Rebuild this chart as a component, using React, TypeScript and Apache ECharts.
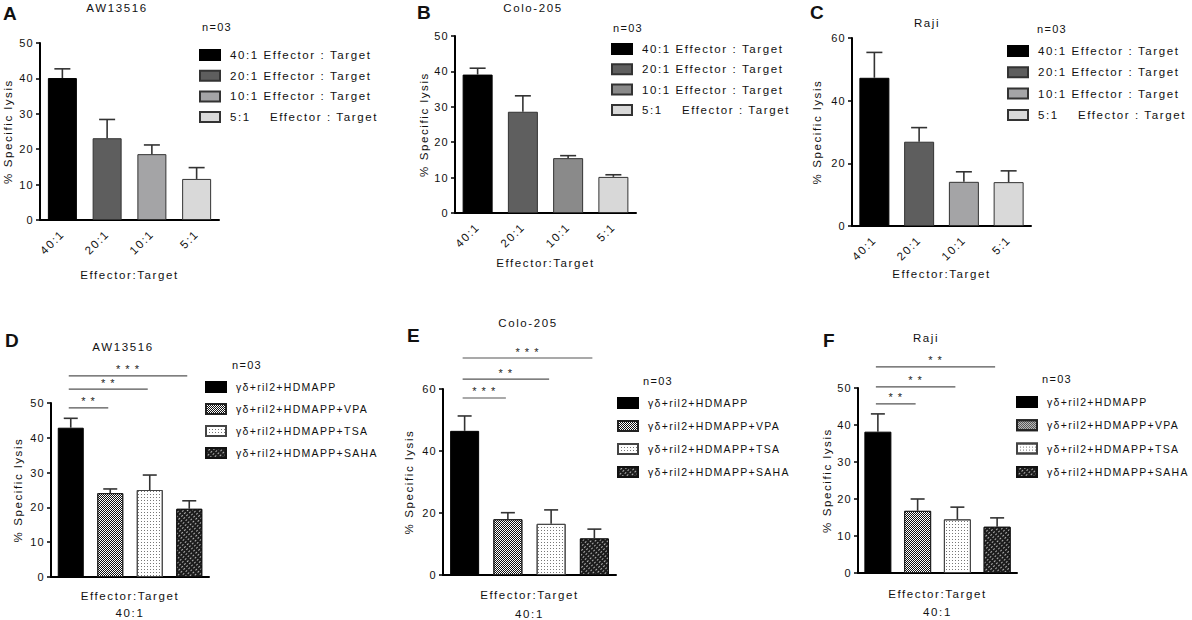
import React, { useEffect, useRef } from "react";
import * as echarts from "echarts";

const FONT = "'Liberation Sans', Arial, Helvetica, sans-serif";

// ---------- data ----------
const topCategories = ["40:1", "20:1", "10:1", "5:1"];
const topSeriesNames = [
  "40:1 Effector : Target",
  "20:1 Effector : Target",
  "10:1 Effector : Target",
  "5:1    Effector : Target",
];
const bottomGroups = ["HDMAPP", "VPA", "TSA", "SAHA"];
const bottomSeriesNames = [
  "γδ+ril2+HDMAPP",
  "γδ+ril2+HDMAPP+VPA",
  "γδ+ril2+HDMAPP+TSA",
  "γδ+ril2+HDMAPP+SAHA",
];

const aMeans = [40.1, 23.1, 18.6, 11.6];
const aUpper = [42.7, 28.4, 21.2, 14.8];
const bMeans = [39.1, 28.6, 15.5, 10.2];
const bUpper = [40.9, 33.1, 16.2, 10.8];
const cMeans = [47.3, 26.9, 14.1, 14.0];
const cUpper = [55.4, 31.4, 17.3, 17.6];
const dMeans = [42.9, 24.1, 25.0, 19.6];
const dUpper = [45.6, 25.3, 29.3, 21.9];
const eMeans = [46.5, 18.0, 16.5, 11.8];
const eUpper = [51.3, 20.1, 21.0, 14.8];
const fMeans = [38.2, 16.8, 14.5, 12.5];
const fUpper = [43.0, 20.0, 17.8, 14.9];

const dSigLevels = [48.6, 54.0, 57.8];
const dSigLabels = ["**", "**", "***"];
const eSigLevels = [57.1, 63.2, 70.0];
const eSigLabels = ["***", "**", "***"];
const fSigLevels = [45.7, 50.3, 55.7];
const fSigLabels = ["**", "**", "**"];

// ---------- styles ----------
const topColorsAC = ["#000000", "#5e5e5e", "#a4a4a6", "#d9d9d9"];
const topColorsB = ["#000000", "#5f5f5f", "#8a8a8a", "#d8d8d8"];

const topStyles = (colors: string[]) =>
  colors.map((c, i) => ({ color: c, borderColor: i === 0 ? "#000" : "#333", borderWidth: 1 }));

const bottomStyles = [
  { color: "#000000", borderColor: "#000", borderWidth: 1 },
  {
    color: "#ffffff",
    borderColor: "#222",
    borderWidth: 1,
    decal: {
      symbol: "rect",
      symbolSize: 1,
      color: "#111111",
      dashArrayX: [[1, 1], [0, 1, 1, 0]],
      dashArrayY: [1, 0],
    },
  },
  {
    color: "#ffffff",
    borderColor: "#444",
    borderWidth: 1,
    decal: {
      symbol: "rect",
      symbolSize: 1,
      color: "#777777",
      dashArrayX: [1, 2],
      dashArrayY: [1, 2],
    },
  },
  {
    color: "#1c1c1c",
    borderColor: "#111",
    borderWidth: 1,
    decal: {
      symbol: "rect",
      symbolSize: 1,
      color: "#b0b0b0",
      dashArrayX: [2, 2],
      dashArrayY: [1, 2],
      rotation: -Math.PI / 4,
    },
  },
];

function txt(text: string, x: number, y: number, font: string, align = "left") {
  return {
    type: "text",
    x,
    y,
    silent: true,
    style: {
      text,
      font,
      fill: "#111",
      align,
      textAlign: align,
      verticalAlign: "middle",
      textVerticalAlign: "middle",
    },
  };
}

function buildOption(cfg: any) {
  const {
    categories, names, means, upper, itemStyles, yMax, yInterval, grid,
    letter, letterPos, title, titlePos, nPos, legend, showXLabels, xName,
    xNameGap, xNameLineHeight, yNameGap, barWidth, capHalf, sigLevels, sigLabels,
  } = cfg;

  const series: any[] = names.map((name: string, i: number) => ({
    type: "bar",
    name,
    barWidth,
    barGap: "-100%",
    data: categories.map((_: string, j: number) => (j === i ? means[i] : "-")),
    itemStyle: itemStyles[i],
    emphasis: { disabled: true },
    z: 2,
  }));

  series.push({
    type: "custom",
    name: "error",
    silent: true,
    z: 3,
    encode: { x: 0, y: [1, 2] },
    data: means.map((m: number, i: number) => [i, m, upper[i]]),
    renderItem: (params: any, api: any) => {
      const base = api.coord([api.value(0), api.value(1)]);
      const top = api.coord([api.value(0), api.value(2)]);
      const st = { stroke: "#333", lineWidth: 1.6 };
      return {
        type: "group",
        children: [
          { type: "line", shape: { x1: base[0], y1: base[1], x2: top[0], y2: top[1] }, style: st },
          { type: "line", shape: { x1: top[0] - capHalf, y1: top[1], x2: top[0] + capHalf, y2: top[1] }, style: st },
        ],
      };
    },
  });

  if (sigLevels) {
    series.push({
      type: "custom",
      name: "sig",
      silent: true,
      z: 3,
      clip: false,
      encode: { x: [0, 1], y: 2 },
      data: sigLevels.map((lv: number, k: number) => [0, k + 1, lv]),
      renderItem: (params: any, api: any) => {
        const p0 = api.coord([api.value(0), api.value(2)]);
        const p1 = api.coord([api.value(1), api.value(2)]);
        return {
          type: "group",
          children: [
            {
              type: "line",
              shape: { x1: p0[0] - 2, y1: p0[1], x2: p1[0] - 2, y2: p1[1] },
              style: { stroke: "#555", lineWidth: 1.2 },
            },
            {
              type: "text",
              x: (p0[0] + p1[0]) / 2,
              y: p0[1] - 1,
              style: {
                text: sigLabels[params.dataIndex],
                font: `11px ${FONT}`,
                fill: "#222",
                align: "center",
                verticalAlign: "bottom",
              },
            },
          ],
        };
      },
    });
  }

  const axisName = { fontFamily: FONT, fontSize: 11.5, color: "#111" };

  return {
    animation: false,
    backgroundColor: "transparent",
    textStyle: { fontFamily: FONT },
    grid: { ...grid, containLabel: false, outerBoundsMode: "none" },
    legend: {
      data: names,
      orient: "vertical",
      left: legend.left,
      top: legend.top,
      padding: 0,
      itemGap: legend.gap,
      itemWidth: legend.w,
      itemHeight: 10,
      icon: "rect",
      selectedMode: false,
      textStyle: {
        fontFamily: FONT,
        fontSize: legend.fontSize,
        color: "#111",
        lineHeight: 12,
        padding: [0, 0, 0, 5],
      },
    },
    xAxis: {
      type: "category",
      data: categories,
      axisLine: { lineStyle: { color: "#000", width: 2 } },
      axisTick: { show: false },
      axisLabel: {
        show: showXLabels,
        rotate: 45,
        margin: 12,
        fontFamily: FONT,
        fontSize: 11.5,
        color: "#111",
      },
      name: xName,
      nameLocation: "middle",
      nameGap: xNameGap,
      nameMoveOverlap: false,
      nameTextStyle: { ...axisName, lineHeight: xNameLineHeight },
    },
    yAxis: {
      type: "value",
      min: 0,
      max: yMax,
      interval: yInterval,
      axisLine: { show: true, lineStyle: { color: "#000", width: 2 } },
      axisTick: { show: true, length: 4, lineStyle: { color: "#000", width: 1.5 } },
      splitLine: { show: false },
      axisLabel: { fontFamily: FONT, fontSize: 11, color: "#111", margin: 6 },
      name: "% Specific lysis",
      nameLocation: "middle",
      nameRotate: 90,
      nameGap: yNameGap,
      nameMoveOverlap: false,
      nameTextStyle: axisName,
    },
    graphic: [
      txt(letter, letterPos[0], letterPos[1], `bold 19px ${FONT}`),
      txt(title, titlePos[0], titlePos[1], `11.5px ${FONT}`, "center"),
      txt("n=03", nPos[0], nPos[1], `11px ${FONT}`),
    ],
    series,
  };
}

const panels: any[] = [
  {
    box: { left: 0, top: 0, width: 400, height: 290 },
    categories: topCategories, names: topSeriesNames, means: aMeans, upper: aUpper,
    itemStyles: topStyles(topColorsAC), yMax: 50, yInterval: 10,
    grid: { left: 40, top: 43, width: 179, height: 177 },
    letter: "A", letterPos: [3, 13], title: "AW13516", titlePos: [117, 8], nPos: [202, 27],
    legend: { left: 199, top: 49, gap: 8.7, w: 20, fontSize: 11.5 },
    showXLabels: true, xName: "Effector:Target", xNameGap: 48, xNameLineHeight: 14,
    yNameGap: 26, barWidth: 29, capHalf: 8,
  },
  {
    box: { left: 400, top: 0, width: 390, height: 290 },
    categories: topCategories, names: topSeriesNames, means: bMeans, upper: bUpper,
    itemStyles: topStyles(topColorsB), yMax: 50, yInterval: 10,
    grid: { left: 55, top: 36, width: 181, height: 177 },
    letter: "B", letterPos: [17, 12], title: "Colo-205", titlePos: [133, 8], nPos: [213, 28],
    legend: { left: 211, top: 43, gap: 8.3, w: 20, fontSize: 11.5 },
    showXLabels: true, xName: "Effector:Target", xNameGap: 43, xNameLineHeight: 14,
    yNameGap: 25, barWidth: 30, capHalf: 8,
  },
  {
    box: { left: 790, top: 0, width: 402, height: 290 },
    categories: topCategories, names: topSeriesNames, means: cMeans, upper: cUpper,
    itemStyles: topStyles(topColorsAC), yMax: 60, yInterval: 20,
    grid: { left: 62, top: 38, width: 179, height: 188 },
    letter: "C", letterPos: [20, 12], title: "Raji", titlePos: [137, 23], nPos: [247, 29],
    legend: { left: 217, top: 45, gap: 9.3, w: 20, fontSize: 11.5 },
    showXLabels: true, xName: "Effector:Target", xNameGap: 41, xNameLineHeight: 14,
    yNameGap: 29, barWidth: 30, capHalf: 8,
  },
  {
    box: { left: 0, top: 290, width: 400, height: 330 },
    categories: bottomGroups, names: bottomSeriesNames, means: dMeans, upper: dUpper,
    itemStyles: bottomStyles, yMax: 50, yInterval: 10,
    grid: { left: 51, top: 113, width: 158, height: 174 },
    letter: "D", letterPos: [5, 50], title: "AW13516", titlePos: [123, 57], nPos: [232, 75],
    legend: { left: 205, top: 91, gap: 10, w: 20, fontSize: 10.5 },
    showXLabels: false, xName: "Effector:Target\n40:1", xNameGap: 10, xNameLineHeight: 17,
    yNameGap: 27, barWidth: 26, capHalf: 7, sigLevels: dSigLevels, sigLabels: dSigLabels,
  },
  {
    box: { left: 400, top: 290, width: 430, height: 330 },
    categories: bottomGroups, names: bottomSeriesNames, means: eMeans, upper: eUpper,
    itemStyles: bottomStyles, yMax: 60, yInterval: 20,
    grid: { left: 43, top: 99, width: 173, height: 186 },
    letter: "E", letterPos: [7, 45], title: "Colo-205", titlePos: [128, 33], nPos: [243, 91],
    legend: { left: 217, top: 107, gap: 11, w: 20, fontSize: 10.5 },
    showXLabels: false, xName: "Effector:Target\n40:1", xNameGap: 10, xNameLineHeight: 19,
    yNameGap: 28, barWidth: 29, capHalf: 7, sigLevels: eSigLevels, sigLabels: eSigLabels,
  },
  {
    box: { left: 790, top: 290, width: 402, height: 330 },
    categories: bottomGroups, names: bottomSeriesNames, means: fMeans, upper: fUpper,
    itemStyles: bottomStyles, yMax: 50, yInterval: 10,
    grid: { left: 68, top: 98, width: 159, height: 185 },
    letter: "F", letterPos: [33, 50], title: "Raji", titlePos: [136, 48], nPos: [252, 89],
    legend: { left: 226, top: 106, gap: 11.3, w: 20, fontSize: 10.5 },
    showXLabels: false, xName: "Effector:Target\n40:1", xNameGap: 12, xNameLineHeight: 18,
    yNameGap: 25, barWidth: 27, capHalf: 7, sigLevels: fSigLevels, sigLabels: fSigLabels,
  },
];

function spaceTexts(dom: HTMLElement | null) {
  if (!dom) return;
  dom.querySelectorAll("text").forEach((t) => {
    const s = (t.textContent || "").trim();
    if (/^[A-F]$/.test(s)) return;
    if (/^\*+$/.test(s)) {
      t.setAttribute("letter-spacing", "5");
      return;
    }
    const fs = parseFloat(getComputedStyle(t).fontSize) || 11;
    t.setAttribute("letter-spacing", fs >= 11.4 ? "1.6" : "1.3");
  });
}

function Panel({ cfg }: { cfg: any }) {
  const ref = useRef<HTMLDivElement>(null);
  useEffect(() => {
    if (!ref.current) return;
    const chart = echarts.init(ref.current, null, { renderer: "svg" });
    const apply = () => spaceTexts(ref.current);
    chart.on("finished", apply);
    chart.setOption(buildOption(cfg));
    apply();
    const r = requestAnimationFrame(apply);
    const t = setTimeout(apply, 100);
    return () => {
      cancelAnimationFrame(r);
      clearTimeout(t);
      chart.dispose();
    };
  }, [cfg]);
  const b = cfg.box;
  return (
    <div
      ref={ref}
      style={{ position: "absolute", left: b.left, top: b.top, width: b.width, height: b.height }}
    />
  );
}

export default function App() {
  return (
    <div
      style={{
        position: "absolute",
        left: 0,
        top: 0,
        width: 1192,
        height: 620,
        background: "#ffffff",
        overflow: "hidden",
      }}
    >
      {panels.map((p, i) => (
        <Panel key={i} cfg={p} />
      ))}
    </div>
  );
}
